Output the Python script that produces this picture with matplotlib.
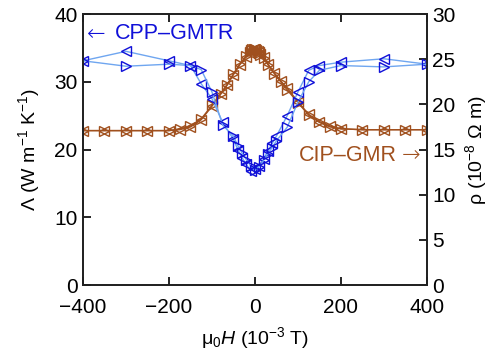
import numpy as np
import matplotlib.pyplot as plt

plt.rcParams['font.family'] = ['Liberation Sans', 'DejaVu Sans']
plt.rcParams['mathtext.fontset'] = 'custom'
plt.rcParams['mathtext.rm'] = 'Liberation Sans'
plt.rcParams['mathtext.it'] = 'Liberation Sans:italic'

# CPP-GMTR thermal conductivity, two field sweeps (left axis)
h_down = [400, 300, 200, 150, 125, 100, 75, 50, 40, 30, 20, 10, 0,
          -10, -20, -30, -40, -50, -75, -100, -125, -150, -200, -300, -400]
lam_down = [32.6, 33.4, 32.9, 32.4, 31.7, 28.5, 25.0, 22.0, 20.9, 19.8, 18.6, 17.6, 17.2,
            16.9, 17.8, 18.8, 20.0, 21.5, 24.0, 27.5, 29.7, 32.4, 33.1, 34.5, 33.1]
h_up = [-400, -300, -200, -150, -125, -100, -75, -50, -40, -30, -20, -10, 0,
        10, 20, 30, 40, 50, 75, 100, 125, 150, 200, 300, 400]
lam_up = [33.1, 32.3, 32.6, 32.4, 31.8, 28.5, 23.6, 22.0, 20.6, 19.5, 18.5, 17.6, 17.0,
          17.5, 18.4, 19.4, 20.3, 21.3, 23.3, 27.0, 30.0, 31.7, 32.4, 32.2, 32.6]

# CIP-GMR resistivity, two field sweeps (right axis)
h_rho = [-400, -350, -300, -250, -200, -175, -150, -125, -100, -80, -65, -50, -35, -20,
         -12, -9, -6, -3, 0, 3, 6, 9, 12, 20, 30, 45, 60, 75, 100, 125, 150, 175, 200,
         250, 300, 350, 400]
rho_down = [17.1, 17.1, 17.1, 17.1, 17.1, 17.2, 17.5, 18.3, 19.8, 21.1, 22.1, 23.3, 24.4, 25.3,
            25.7, 25.9, 26.0, 26.1, 26.1, 26.0, 25.9, 25.8, 25.6, 25.2, 24.5, 23.5, 22.6, 21.8,
            20.3, 18.9, 18.1, 17.6, 17.3, 17.2, 17.2, 17.2, 17.2]
rho_up = [17.1, 17.1, 17.1, 17.1, 17.1, 17.3, 17.6, 18.4, 19.9, 21.2, 22.2, 23.4, 24.5, 25.4,
          25.8, 26.0, 26.1, 26.1, 26.1, 26.0, 25.9, 25.7, 25.5, 25.1, 24.4, 23.4, 22.5, 21.6,
          20.2, 18.8, 18.0, 17.5, 17.3, 17.2, 17.2, 17.2, 17.2]

blue_line = '#6fa6f0'
blue_mk = '#1010d8'
brown = '#a0501e'

fig = plt.figure(figsize=(4.97, 3.6), dpi=100)
ax = fig.add_axes([0.167, 0.208, 0.692, 0.753])
ax2 = ax.twinx()

mk = dict(markersize=7, markerfacecolor='none', markeredgewidth=1.0, linewidth=1.0)
ax2.plot(h_rho, rho_down, marker='<', color=brown, markeredgecolor=brown, **mk)
ax2.plot(h_rho, rho_up, marker='>', color=brown, markeredgecolor=brown, **mk)
ax.plot(h_down, lam_down, marker='<', color=blue_line, markeredgecolor=blue_mk, **mk)
ax.plot(h_up, lam_up, marker='>', color=blue_line, markeredgecolor=blue_mk, **mk)
ax.set_zorder(ax2.get_zorder() + 1)
ax.patch.set_visible(False)

ax.set_xlim(-400, 400)
ax.set_ylim(0, 40)
ax2.set_ylim(0, 30)
ax.set_xticks([-400, -200, 0, 200, 400])
ax.set_yticks([0, 10, 20, 30, 40])
ax2.set_yticks([0, 5, 10, 15, 20, 25, 30])

ax.tick_params(direction='in', length=6, width=1.2, labelsize=15, top=True, right=False)
ax.tick_params(axis='x', pad=9)
ax.tick_params(axis='y', pad=4)
ax2.tick_params(direction='in', length=6, width=1.2, labelsize=15, pad=4)
for a in (ax, ax2):
    for s in a.spines.values():
        s.set_linewidth(1.3)
        s.set_color('#222222')

ax.set_xlabel(r'μ$_0$$\mathit{H}$ (10$^{-3}$ T)', fontsize=14, labelpad=6)
ax.set_ylabel(r'Λ (W m$^{-1}$ K$^{-1}$)', fontsize=14, labelpad=9)
ax2.set_ylabel(r'ρ (10$^{-8}$ Ω m)', fontsize=14, labelpad=5)

# curve labels, arrows drawn in DejaVu Sans for a full-size glyph
ax.text(-392, 37.1, '←', color=blue_mk, fontsize=16, va='center', ha='left',
        family='DejaVu Sans', fontweight='light')
ax.text(-326, 37.1, 'CPP–GMTR', color=blue_mk, fontsize=15.5, va='center', ha='left')
ax2.text(331, 14.4, 'CIP–GMR', color=brown, fontsize=15.5, va='center', ha='right')
ax2.text(342, 14.4, '→', color=brown, fontsize=16, va='center', ha='left',
         family='DejaVu Sans', fontweight='light')

fig.savefig('out.png', dpi=100)
